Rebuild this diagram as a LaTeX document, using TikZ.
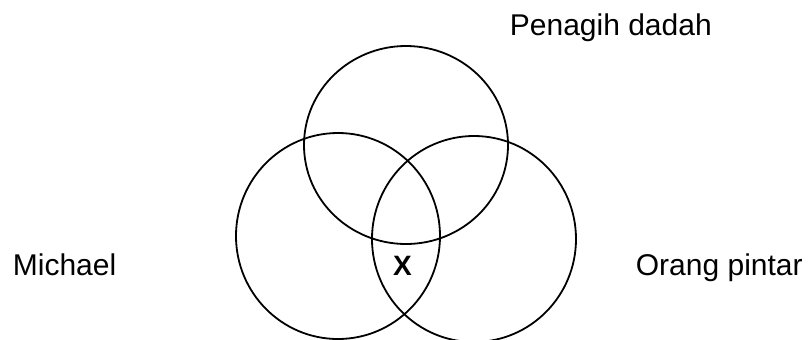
\documentclass[tikz,border=0pt]{standalone}
\usepackage{fontspec}
\setmainfont{Liberation Sans}
\begin{document}
\begin{tikzpicture}[x=0.5pt,y=-0.5pt,font=\fontsize{15}{17}\selectfont,line width=0.9pt]
\useasboundingbox (0,0) rectangle (809,339);
\draw (406,145) ellipse [x radius=51pt, y radius=49.5pt];
\draw (338,236) ellipse [x radius=51pt, y radius=51.5pt];
\draw (474,239) ellipse [x radius=51pt, y radius=51.5pt];
\node (penagih) [anchor=base west, inner sep=0pt] at (509,35) {Penagih dadah};
\node (michael) [anchor=base west, inner sep=0pt] at (12,275) {Michael};
\node (orang) [anchor=base west, inner sep=0pt] at (635,275) {Orang pintar};
\node (x) [anchor=base, inner sep=0pt, font=\fontsize{14}{16}\selectfont\bfseries] at (402.5,275) {X};
\end{tikzpicture}
\end{document}
